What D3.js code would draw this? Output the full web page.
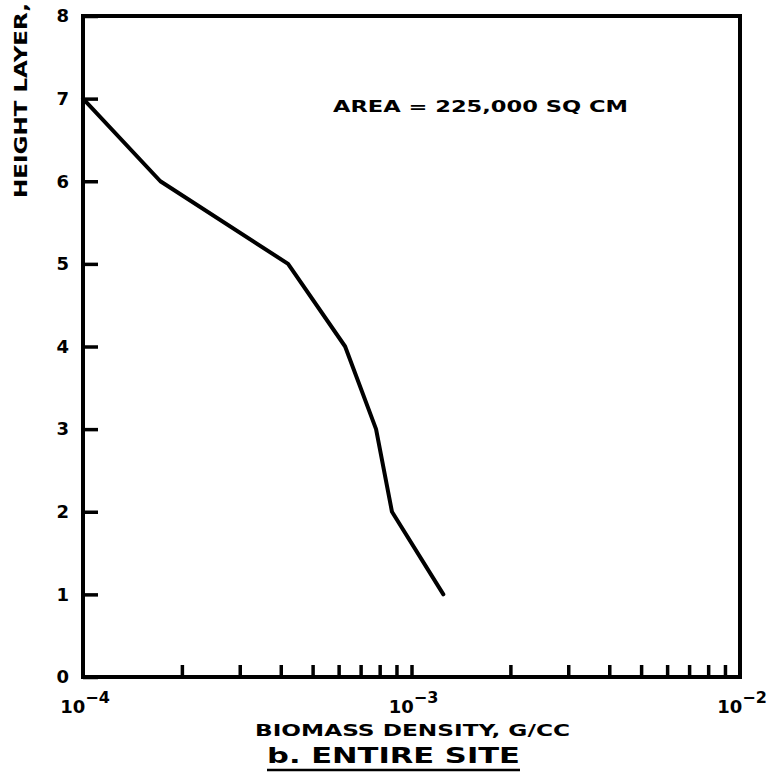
<!DOCTYPE html>
<html>
<head>
<meta charset="utf-8">
<script src="https://cdn.jsdelivr.net/npm/d3@7/dist/d3.min.js"></script>
<style>
  html, body { margin: 0; padding: 0; background: #fff; }
  svg { display: block; }
  text { font-family: "DejaVu Sans", sans-serif; font-weight: bold; fill: #000; }
</style>
</head>
<body>
<svg id="chart" width="778" height="778"></svg>
<script>
// ---- data ----
const heightLayers = [7, 6, 5, 4, 3, 2, 1];
const biomassDensity = [1.0e-4, 1.72e-4, 4.21e-4, 6.28e-4, 7.8e-4, 8.72e-4, 1.25e-3];
const yTickValues = [0, 1, 2, 3, 4, 5, 6, 7, 8];
const xMajorExponents = [-4, -3, -2];
const xMinorTicks = [2e-4, 3e-4, 4e-4, 5e-4, 6e-4, 7e-4, 8e-4, 9e-4, 1e-3,
                     2e-3, 3e-3, 4e-3, 5e-3, 6e-3, 7e-3, 8e-3, 9e-3];
const annotation = "AREA = 225,000 SQ CM";
const xTitle = "BIOMASS DENSITY, G/CC";
const yTitle = "HEIGHT LAYER,";
const caption = "b. ENTIRE SITE";

// ---- layout ----
const L = 83, R = 740, T = 16, B = 677;
const svg = d3.select("#chart");
svg.append("rect").attr("width", 778).attr("height", 778).attr("fill", "#fff");

const x = d3.scaleLog().domain([1e-4, 1e-2]).range([L, R]);
const y = d3.scaleLinear().domain([0, 8]).range([B, T]);

// x axis (inward ticks, no labels)
const xAxis = d3.axisBottom(x).tickValues(xMinorTicks).tickSize(-12).tickFormat("");
const gx = svg.append("g").attr("transform", `translate(0,${B})`).call(xAxis);
gx.select(".domain").remove();
gx.selectAll(".tick line").attr("stroke", "#000").attr("stroke-width", 3.5);

// x major labels 10^n
xMajorExponents.forEach(e => {
  const t = svg.append("text")
    .attr("x", x(Math.pow(10, e)) + 2)
    .attr("y", 713)
    .attr("text-anchor", "middle");
  t.append("tspan").attr("font-size", 18).text("10");
  t.append("tspan").attr("font-size", 16).attr("dy", -10).text("\u2212" + Math.abs(e));
});

// y axis (inward ticks, labels on the left)
const yAxis = d3.axisLeft(y).tickValues(yTickValues).tickSize(-15).tickPadding(14).tickFormat(d3.format("d"));
const gy = svg.append("g").attr("transform", `translate(${L},0)`).call(yAxis);
gy.select(".domain").remove();
gy.selectAll(".tick line").attr("stroke", "#000").attr("stroke-width", 3.5);
gy.selectAll(".tick text").attr("font-size", 18).attr("font-family", "DejaVu Sans").attr("font-weight", "bold").attr("fill", "#000");

// frame
svg.append("rect")
  .attr("x", L).attr("y", T).attr("width", R - L).attr("height", B - T)
  .attr("fill", "none").attr("stroke", "#000").attr("stroke-width", 4);

// data line
const pts = heightLayers.map((h, i) => [biomassDensity[i], h]);
svg.append("path")
  .datum(pts)
  .attr("fill", "none")
  .attr("stroke", "#000")
  .attr("stroke-width", 4)
  .attr("stroke-linejoin", "round")
  .attr("stroke-linecap", "round")
  .attr("d", d3.line().x(d => x(d[0])).y(d => y(d[1])));

// annotation
svg.append("text")
  .attr("x", 333).attr("y", 112)
  .attr("font-size", 16)
  .attr("textLength", 295).attr("lengthAdjust", "spacingAndGlyphs")
  .text(annotation);

// x title
svg.append("text")
  .attr("x", 255).attr("y", 736)
  .attr("font-size", 16)
  .attr("textLength", 315).attr("lengthAdjust", "spacingAndGlyphs")
  .text(xTitle);

// y title
svg.append("text")
  .attr("transform", "translate(27,198) rotate(-90)")
  .attr("font-size", 17)
  .attr("textLength", 195).attr("lengthAdjust", "spacingAndGlyphs")
  .text(yTitle);

// caption with underline
svg.append("text")
  .attr("x", 267).attr("y", 763)
  .attr("font-size", 21)
  .attr("textLength", 253).attr("lengthAdjust", "spacingAndGlyphs")
  .text(caption);
svg.append("line")
  .attr("x1", 267).attr("x2", 520).attr("y1", 770).attr("y2", 770)
  .attr("stroke", "#000").attr("stroke-width", 2.5);
</script>
</body>
</html>
